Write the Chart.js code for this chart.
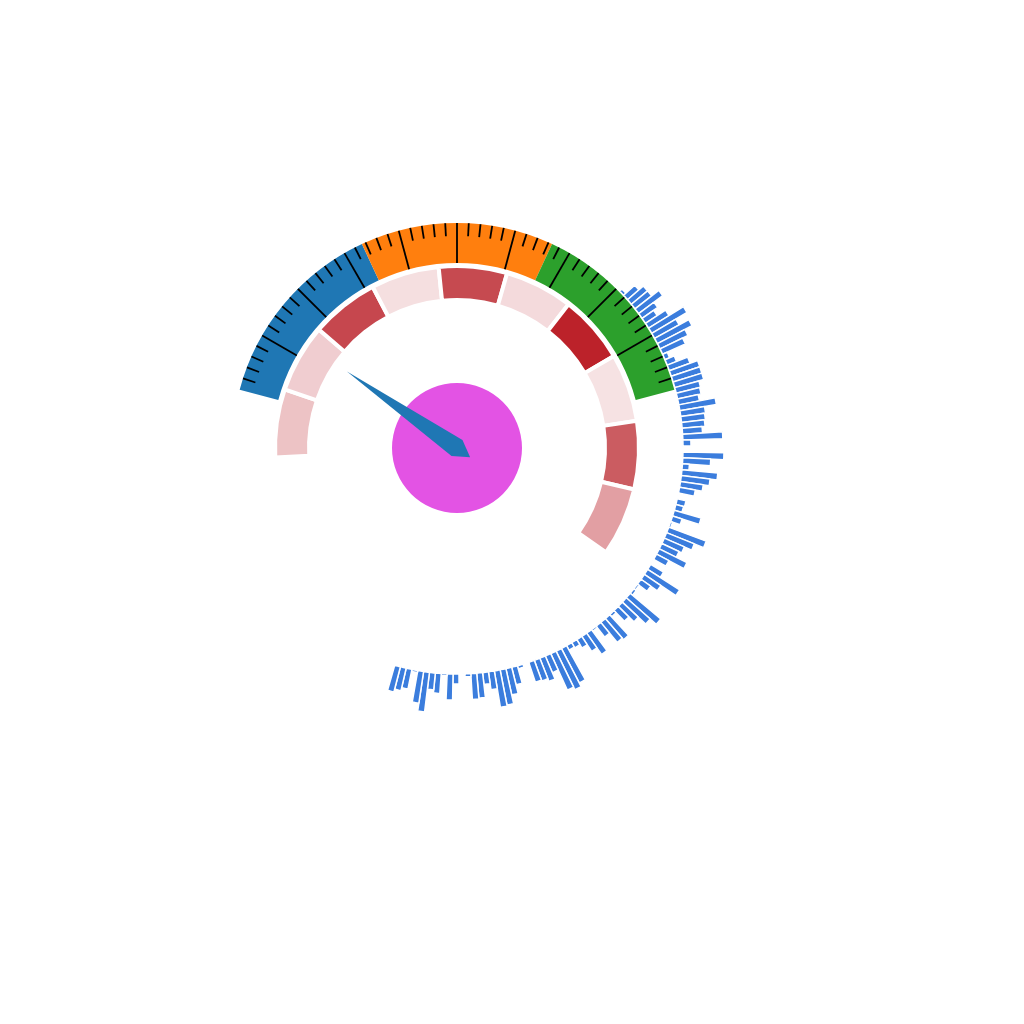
<!DOCTYPE html>
<html><head><meta charset="utf-8">
<script src="https://cdn.jsdelivr.net/npm/chart.js@4.4.1/dist/chart.umd.min.js"></script>
<style>
html,body{margin:0;padding:0;background:#fff;}
#wrap{position:relative;width:1024px;height:1024px;overflow:hidden;background:#fff;}
.layer{position:absolute;}
</style></head><body>
<div id="wrap">
  <div class="layer" style="left:157px;top:148px;width:600px;height:600px"><canvas id="bars" width="600" height="600"></canvas></div>
  <div class="layer" style="left:232px;top:223px;width:450px;height:450px"><canvas id="gauge" width="450" height="450"></canvas></div>
</div>
<script>
// ---- data ----
const barValues = [1, 3, 15, 21, 21, 30, 19, 14, 24, 41, 28, 39, 31, 25, 5, 10, 22, 30, 30, 30, 25, 24, 21, 37, 25, 24, 23, 20, 40, 8, 0.5, 41, 28, 7, 36, 29, 23, 16, 1, 9, 8, 28, 10, 2, 40, 30, 22, 19, 31, 14, 1, 15, 38, 20, 12, 2, 3, 40, 32, 22, 15, 3, 28, 26, 14, 2, 26, 18, 10, 6, 5, 39, 43, 40, 18, 25, 22, 21, 1, 3, 18, 27, 36, 37, 18, 12, 25, 26, 3, 1, 10, 26, 2, 20, 17, 40, 32, 2, 20, 23, 26];
const barLabels = barValues.map((v, i) => 'b' + i);
const barColor = '#3b7ddd';
const barStartAngle = 44.5;   // degrees, clockwise from top
const barSweep = 1.5;         // degrees per bar

const gaugeBands = ['low', 'mid', 'high'];
const gaugeBandValues = [1, 1, 1];
const gaugeColors = ['#1f77b4', '#ff7f0e', '#2ca02c'];
const gaugeMin = 0, gaugeMax = 100, gaugeMajorStep = 10, gaugeMinorStep = 2;
const needleValue = 13.2;

const ringLabels = ['s1','s2','s3','s4','s5','s6','s7','s8','s9','s10'];
const ringValues = [1, 1, 1, 1, 1, 1, 1, 1, 1, 1];
const ringColors = ['#edc3c5', '#f0cdd0', '#c6474e', '#f5dfe0', '#c64a50', '#f4dadc', '#bc222a', '#f6e2e3', '#cb5c61', '#e29fa3'];

const hubColor = '#e353e4';
const needleColor = '#1f77b4';

// ---- radial bars (polar area with a raised baseline) ----
const baselinePlugin = {
  id: 'baseline',
  afterDatasetUpdate(chart, args) {
    const base = chart.scales.r.getDistanceFromCenterForValue(0);
    args.meta.data.forEach(a => { a.innerRadius = base; });
  }
};
new Chart(document.getElementById('bars'), {
  type: 'polarArea',
  data: {
    labels: barLabels,
    datasets: [{
      data: barValues,
      backgroundColor: barColor,
      borderColor: '#ffffff',
      borderWidth: 1.5,
      angle: barSweep
    }]
  },
  options: {
    responsive: false,
    animation: false,
    events: [],
    layout: { padding: 0 },
    plugins: { legend: { display: false }, tooltip: { enabled: false } },
    scales: {
      r: { display: false, min: -226, max: 74, startAngle: barStartAngle,
           ticks: { display: false }, pointLabels: { display: false } }
    }
  },
  plugins: [baselinePlugin]
});

// ---- gauge, segment ring, hub ----
const gaugeDecor = {
  id: 'gaugeDecor',
  afterDatasetsDraw(chart) {
    const ctx = chart.ctx;
    const arcs = chart.getDatasetMeta(0).data;
    const a0 = arcs[0].startAngle, a1 = arcs[arcs.length - 1].endAngle;
    const cx = arcs[0].x, cy = arcs[0].y;
    const rOut = arcs[0].outerRadius, rIn = arcs[0].innerRadius;
    const ang = v => a0 + (v - gaugeMin) / (gaugeMax - gaugeMin) * (a1 - a0);
    ctx.save();
    ctx.strokeStyle = '#000';
    ctx.lineCap = 'butt';
    for (let v = gaugeMin + gaugeMinorStep; v < gaugeMax - 1e-9; v += gaugeMinorStep) {
      const major = Math.abs(v / gaugeMajorStep - Math.round(v / gaugeMajorStep)) < 1e-6;
      const a = ang(v);
      const r2 = major ? rIn : rOut - 13;
      ctx.lineWidth = 1.8;
      ctx.beginPath();
      ctx.moveTo(cx + rOut * Math.cos(a), cy + rOut * Math.sin(a));
      ctx.lineTo(cx + r2 * Math.cos(a), cy + r2 * Math.sin(a));
      ctx.stroke();
    }
    // needle
    const a = ang(needleValue);
    const ux = Math.cos(a), uy = Math.sin(a), px = -uy, py = ux;
    const L = 134, W = 9.6, T = 16;
    ctx.fillStyle = needleColor;
    ctx.beginPath();
    ctx.moveTo(cx + ux * L, cy + uy * L);
    ctx.lineTo(cx + px * W, cy + py * W);
    ctx.lineTo(cx - ux * T, cy - uy * T);
    ctx.lineTo(cx - px * W, cy - py * W);
    ctx.closePath();
    ctx.fill();
    ctx.restore();
  }
};
const clear = 'rgba(0,0,0,0)';
new Chart(document.getElementById('gauge'), {
  type: 'doughnut',
  data: {
    labels: ringLabels,
    datasets: [
      { data: gaugeBandValues, backgroundColor: gaugeColors, borderWidth: 0, weight: 40, rotation: -75, circumference: 150 },
      { data: [1], backgroundColor: clear, borderWidth: 0, weight: 3, rotation: 0, circumference: 360 },
      { data: ringValues, backgroundColor: ringColors, borderColor: '#ffffff', borderWidth: 4, weight: 34, rotation: -93, circumference: 218 },
      { data: [1], backgroundColor: clear, borderWidth: 0, weight: 83, rotation: 0, circumference: 360 },
      { data: [1], backgroundColor: hubColor, borderWidth: 0, weight: 65, rotation: 0, circumference: 360 }
    ]
  },
  options: {
    responsive: false,
    animation: false,
    events: [],
    cutout: 0,
    radius: 225,
    layout: { padding: 0 },
    plugins: { legend: { display: false }, tooltip: { enabled: false } }
  },
  plugins: [gaugeDecor]
});
</script>
</body></html>
